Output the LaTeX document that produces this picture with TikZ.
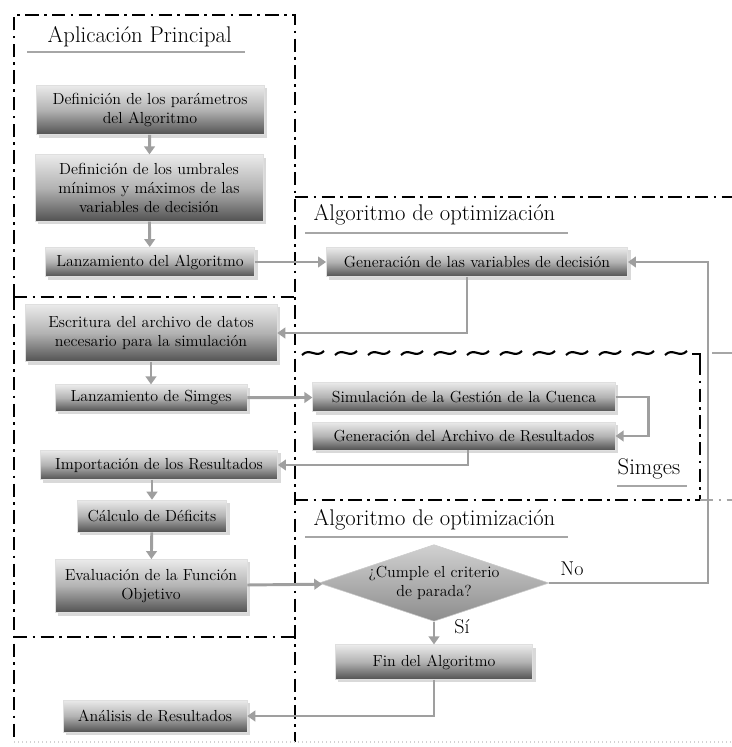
\documentclass[tikz,border=0pt]{standalone}
\usepackage{amsmath}
\usepackage{tikz}
\usetikzlibrary{shapes.geometric,shadows,arrows.meta}

\tikzset{
  box/.style={draw=gray!25, top color=black!8, bottom color=black!68, middle color=black!30,
    drop shadow={opacity=.3}, align=center, inner sep=2pt, font=\fontsize{12}{14}\selectfont},
  cond/.style={diamond, shape aspect=3, draw=gray!40, top color=black!18, bottom color=black!45,
    align=center, inner sep=0pt, font=\fontsize{12}{14}\selectfont},
  conn/.style={draw=gray!75, line width=2.2pt, -{Triangle[length=6pt,width=8pt]}},
  frame/.style={line width=1.6pt, dash pattern=on 10pt off 4pt on 2pt off 4pt},
  title/.style={anchor=west, font=\fontsize{17}{19}\selectfont},
  uline/.style={draw=gray!70, line width=1.2pt}
}

\begin{document}
\begin{tikzpicture}[x=0.75pt,y=-0.75pt]
  \useasboundingbox (0,0) rectangle (732,747);

  % frames
  \draw[frame] (14,297) -- (14,15) -- (295,15) -- (295,742);
  \draw[frame] (14,297) -- (14,742);
  \draw[frame] (14,297) -- (295,297);
  \draw[frame] (14,637) -- (295,637);
  \draw[frame] (295,197) -- (732,197);
  \foreach \x in {302,335,...,665}
    \draw[line width=1.6pt] (\x,355) .. controls (\x+8,347) and (\x+14,359) .. (\x+22,351);
  \draw[line width=1.6pt] (692,354) -- (700,354) -- (700,362);
  \draw[frame] (700,362) -- (700,500);
  \draw[frame] (295,500) -- (700,500);
  \draw[frame, gray!70] (700,500) -- (732,500);
  \draw[gray!70, line width=1.2pt] (712,353) -- (732,353);
  \draw[gray!35, line width=1pt, dotted] (14,742) -- (732,742);

  % titles
  \node[title] (tap) at (43,37) {Aplicación Principal};
  \draw[uline] (27,52) -- (245,52);
  \node[title] (talg) at (309,215) {Algoritmo de optimización};
  \draw[uline] (305,233) -- (568,233);
  \node[title] (talg2) at (309,520) {Algoritmo de optimización};
  \draw[uline] (305,537) -- (568,537);
  \node[title] (tsim) at (613,469) {Simges};
  \draw[uline] (617,486) -- (687,486);

  % boxes
  \node[box, minimum width=171pt, minimum height=37pt] (par) at (150,110) {Definición de los parámetros\\del Algoritmo};
  \node[box, minimum width=171pt, minimum height=50pt] (umb) at (149,188) {Definición de los umbrales\\mínimos y máximos de las\\variables de decisión};
  \node[box, minimum width=157pt, minimum height=22pt] (lanz) at (150,262) {Lanzamiento del Algoritmo};
  \node[box, minimum width=226pt, minimum height=22pt] (gen) at (477,262) {Generación de las variables de decisión};
  \node[box, minimum width=189pt, minimum height=43pt] (esc) at (151,333) {Escritura del archivo de datos\\necesario para la simulación};
  \node[box, minimum width=144pt, minimum height=20pt] (lsim) at (151,398) {Lanzamiento de Simges};
  \node[box, minimum width=227pt, minimum height=22pt] (sim) at (464,397) {Simulación de la Gestión de la Cuenca};
  \node[box, minimum width=227pt, minimum height=21pt] (arch) at (464,436) {Generación del Archivo de Resultados};
  \node[box, minimum width=178pt, minimum height=22pt] (imp) at (159,465) {Importación de los Resultados};
  \node[box, minimum width=112pt, minimum height=24pt] (cal) at (152,516) {Cálculo de Déficits};
  \node[box, minimum width=144pt, minimum height=40pt] (eva) at (151,586) {Evaluación de la Función\\Objetivo};
  \node[cond, minimum width=166pt, minimum height=56pt] (dec) at (434,583) {¿Cumple el criterio\\de parada?};
  \node[box, minimum width=148pt, minimum height=26pt] (fin) at (434,662) {Fin del Algoritmo};
  \node[box, minimum width=138pt, minimum height=24pt] (ana) at (155,716) {Análisis de Resultados};
  \coordinate (ret) at (708,583);

  % connectors
  \draw[conn] (par) -- (umb);
  \draw[conn] (umb) -- (lanz);
  \draw[conn] (lanz) -- (gen);
  \draw[conn] ([xshift=-7.5pt]gen.south) |- (esc.east);
  \draw[conn] (esc) -- (lsim);
  \draw[conn] (lsim) -- (sim);
  \draw[conn] (sim.east) -- ++(33,0) |- (arch.east);
  \draw[conn] ([xshift=3pt]arch.south) |- (imp.east);
  \draw[conn] (imp.south -| cal.north) -- (cal);
  \draw[conn] (cal) -- (eva);
  \draw[conn] (eva) -- (dec);
  \draw[conn] (dec.east) -- (ret) |- (gen.east);
  \draw[conn] (dec) -- (fin);
  \draw[conn] (fin.south) |- (ana.east);
  \node[font=\fontsize{15}{17}\selectfont] (no) at (572,569) {No};
  \node[font=\fontsize{15}{17}\selectfont] (si) at (462,627) {Sí};
\end{tikzpicture}
\end{document}
